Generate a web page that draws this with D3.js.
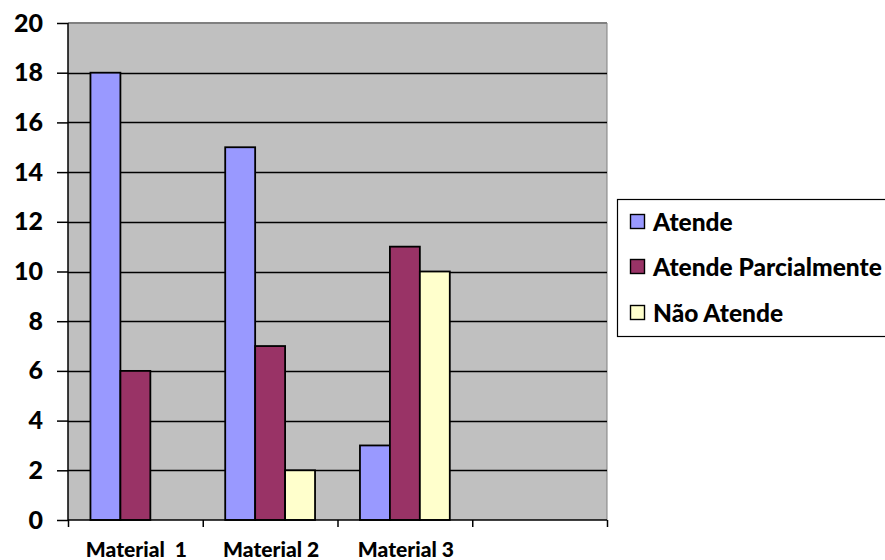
<!DOCTYPE html>
<html><head><meta charset="utf-8">
<script src="https://cdn.jsdelivr.net/npm/d3@7/dist/d3.min.js"></script>
<style>body{margin:0;background:#fff}svg{display:block}text{font-family:Lato,"Open Sans",sans-serif;font-weight:900}</style>
</head><body>
<svg id="c" width="885" height="560"></svg>
<script>
const categories = ["Material  1", "Material 2", "Material 3", ""];
const seriesNames = ["Atende", "Atende Parcialmente", "Não Atende"];
const atende = [18, 15, 3, null];
const parcial = [6, 7, 11, null];
const naoAtende = [null, 2, 10, null];
const colors = ["#9999ff", "#993366", "#ffffcc"];
const yTicks = [0, 2, 4, 6, 8, 10, 12, 14, 16, 18, 20];

const svg = d3.select("#c");
const L = 68, R = 607, T = 23, B = 520;
const x0 = d3.scaleBand().domain(d3.range(categories.length)).range([L, R]);
const x1 = d3.scaleBand().domain(d3.range(3)).range([0, x0.bandwidth()]).paddingOuter(0.75).paddingInner(0);
const y = d3.scaleLinear().domain([0, 20]).range([B, T]);

svg.append("rect").attr("x", L).attr("y", T).attr("width", R - L).attr("height", B - T).attr("fill", "#c0c0c0");
svg.append("line").attr("x1", L).attr("x2", R).attr("y1", T).attr("y2", T).attr("stroke", "#808080").attr("stroke-width", 2);
svg.append("line").attr("x1", R).attr("x2", R).attr("y1", T).attr("y2", B).attr("stroke", "#808080").attr("stroke-width", 1);
svg.append("g").selectAll("line").data(yTicks.filter(d => d > 0 && d < 20)).join("line")
  .attr("x1", L).attr("x2", R).attr("y1", d => Math.round(y(d)) + 0.5).attr("y2", d => Math.round(y(d)) + 0.5)
  .attr("stroke", "#000").attr("stroke-width", 1.5);

const series = [atende, parcial, naoAtende];
series.forEach((vals, s) => {
  svg.append("g").selectAll("rect").data(vals.map((v, i) => ({v, i})).filter(d => d.v != null)).join("rect")
    .attr("x", d => x0(d.i) + x1(s)).attr("width", x1.bandwidth())
    .attr("y", d => y(d.v)).attr("height", d => y(0) - y(d.v))
    .attr("fill", colors[s]).attr("stroke", "#000").attr("stroke-width", 1.8);
});

// y axis
const ya = svg.append("g").attr("transform", `translate(${L},0)`)
  .call(d3.axisLeft(y).tickValues(yTicks).tickSize(11).tickPadding(14));
ya.select(".domain").attr("stroke", "#000").attr("stroke-width", 1.5).attr("d", `M0,${T}V${B}`);
ya.selectAll(".tick line").attr("stroke", "#000").attr("stroke-width", 1.5);
ya.selectAll("text").attr("font-size", 25).attr("fill", "#000").style("font-family", "Lato").style("font-weight", "900");

// x axis
const xa = svg.append("g").attr("transform", `translate(0,${B})`)
  .call(d3.axisBottom(d3.scaleLinear().domain([0, categories.length]).range([L, R]))
    .tickValues(d3.range(categories.length + 1)).tickSize(7).tickFormat(""));
xa.select(".domain").attr("stroke", "#000").attr("stroke-width", 1.5).attr("d", `M${L},0H${R}`);
xa.selectAll(".tick line").attr("stroke", "#000").attr("stroke-width", 1.5);
svg.append("g").selectAll("text").data(categories).join("text")
  .attr("x", (d, i) => x0(i) + x0.bandwidth() / 2 + 1).attr("y", 557)
  .attr("text-anchor", "middle").attr("font-size", 21).attr("fill", "#000")
  .attr("xml:space", "preserve").style("white-space", "pre").text(d => d);

// legend
const lg = svg.append("g");
lg.append("rect").attr("x", 617.5).attr("y", 199.5).attr("width", 280).attr("height", 137)
  .attr("fill", "#fff").attr("stroke", "#000").attr("stroke-width", 1.2);
const ly = [222, 267, 313];
seriesNames.forEach((n, i) => {
  lg.append("rect").attr("x", 630.5).attr("y", ly[i] - 7.5).attr("width", 14).attr("height", 14)
    .attr("fill", colors[i]).attr("stroke", "#000").attr("stroke-width", 1.4);
  lg.append("text").attr("x", 653).attr("y", ly[i]).attr("dy", "0.36em")
    .attr("font-size", 24.5).attr("fill", "#000").text(n);
});
</script>
</body></html>
